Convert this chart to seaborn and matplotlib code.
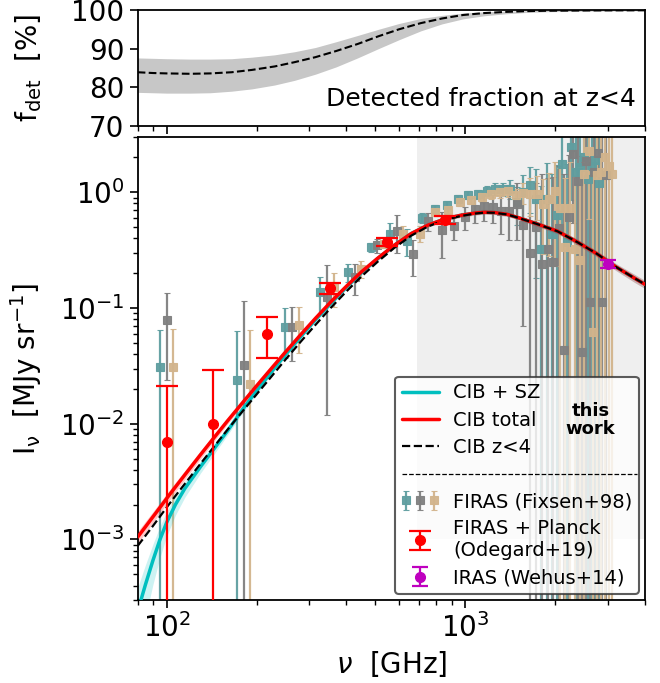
import numpy as np
import matplotlib
matplotlib.use("Agg")
import matplotlib.pyplot as plt
import seaborn as sns
from matplotlib.lines import Line2D
from matplotlib.legend_handler import HandlerTuple

# ---------------- data ----------------
# model curves (this work)
nu_model = [80, 85, 90, 95, 100, 107, 115, 130, 145, 160, 180, 200, 225, 250, 280, 315, 355,
            400, 450, 510, 580, 660, 750, 850, 960, 1080, 1160, 1250, 1380, 1500, 1750, 2040,
            2380, 2760, 3200, 3700, 4000]
cib_total = [0.00105, 0.00129, 0.00157, 0.00189, 0.00226, 0.00284, 0.00361, 0.00542, 0.00773,
             0.0106, 0.0153, 0.0212, 0.0303, 0.0416, 0.0581, 0.0813, 0.113, 0.154, 0.206,
             0.27, 0.35, 0.44, 0.52, 0.585, 0.63, 0.662, 0.672, 0.668, 0.645, 0.605, 0.53,
             0.46, 0.37, 0.294, 0.226, 0.18, 0.16]
cib_total_rel = [0.12, 0.115, 0.11, 0.105, 0.10, 0.095, 0.09, 0.08, 0.07, 0.06, 0.06, 0.05,
                 0.05, 0.05, 0.04, 0.04, 0.04, 0.04, 0.04, 0.04, 0.04, 0.04, 0.04, 0.04, 0.04,
                 0.04, 0.04, 0.04, 0.04, 0.04, 0.05, 0.05, 0.06, 0.06, 0.07, 0.08, 0.08]
cib_sz = [0.00024, 0.00041, 0.00066, 0.00100, 0.00140, 0.0020, 0.00275, 0.00427, 0.0062,
          0.0087, 0.0134, 0.0192, 0.0283, 0.0395, 0.0558, 0.079, 0.110, 0.151, 0.203, 0.268,
          0.349, 0.44, 0.52, 0.585, 0.63, 0.662, 0.672, 0.668, 0.645, 0.605, 0.53, 0.46,
          0.37, 0.294, 0.226, 0.18, 0.16]
cib_sz_rel = [0.6, 0.48, 0.38, 0.3, 0.24, 0.19, 0.16, 0.12, 0.1, 0.08, 0.07, 0.06, 0.05, 0.05,
              0.04, 0.04, 0.04, 0.04, 0.04, 0.04, 0.04, 0.04, 0.04, 0.04, 0.04, 0.04, 0.04,
              0.04, 0.04, 0.04, 0.05, 0.05, 0.06, 0.06, 0.07, 0.08, 0.08]
cib_z4 = [0.00088, 0.00108, 0.00131, 0.00158, 0.00189, 0.00238, 0.00302, 0.00453, 0.00647,
          0.0089, 0.0129, 0.0179, 0.0258, 0.0358, 0.0505, 0.0714, 0.1006, 0.139, 0.188, 0.252,
          0.332, 0.422, 0.506, 0.573, 0.621, 0.655, 0.667, 0.665, 0.643, 0.603, 0.529, 0.459,
          0.369, 0.294, 0.226, 0.18, 0.16]

# detected fraction (top panel)
nu_fdet = [80, 90, 100, 120, 140, 165, 193, 230, 268, 315, 370, 436, 512, 600, 710, 836, 983,
           1157, 1360, 1600, 1880, 2600, 4000]
fdet = [83.9, 83.7, 83.6, 83.5, 83.6, 83.9, 84.5, 85.4, 86.5, 87.8, 89.4, 91.2, 93.2, 95.0,
        96.6, 97.8, 98.7, 99.2, 99.5, 99.7, 99.8, 99.88, 99.92]
fdet_lo = [78.7, 78.6, 78.5, 78.5, 78.6, 79.0, 79.6, 80.6, 81.8, 83.4, 85.3, 87.6, 90.0, 92.3,
           94.6, 96.4, 97.7, 98.5, 99.0, 99.35, 99.55, 99.7, 99.8]
fdet_hi = [87.6, 87.5, 87.4, 87.3, 87.3, 87.4, 87.8, 88.4, 89.2, 90.3, 91.8, 93.4, 95.0, 96.5,
           97.8, 98.6, 99.2, 99.5, 99.7, 99.8, 99.9, 99.95, 100.0]

# FIRAS (Fixsen+98), three realisations
nu_firas = [100, 181.5, 263, 344.5, 426, 507.5, 589, 670.5, 752, 833.5, 915, 996.5, 1078,
            1159.5, 1241, 1322.5, 1404, 1485.5, 1567, 1648.5, 1730, 1811.5, 1893, 1974.5,
            2056, 2137.5, 2219, 2300.5, 2382, 2463.5, 2545, 2626.5, 2708, 2789.5, 2871, 2952.5]
firas_teal = [0.031, 0.024, 0.068, 0.137, 0.204, 0.335, 0.44, 0.38, 0.60, 0.72, 0.78, 0.88,
              0.95, 0.96, 1.03, 1.07, 1.07, 1.07, 0.82, 1.00, 1.16, 0.88, 0.325, 0.88, 0.44,
              0.63, 1.76, 0.37, 2.45, 1.51, 1.64, 2.0, 1.3, 1.7, 1.9, 1.2]
firas_teal_err = [0.034, 0.039, 0.031, 0.049, 0.035, 0.03, 0.10, 0.10, 0.06, 0.05, 0.06, 0.07,
                  0.08, 0.09, 0.10, 0.12, 0.14, 0.2, 0.3, 0.4, 0.5, 0.7, 0.8, 0.9, 1.0, 1.1,
                  1.3, 1.4, 1.6, 1.7, 1.9, 2.0, 2.2, 2.4, 2.6, 2.8]
firas_grey = [0.079, 0.032, 0.069, 0.124, 0.185, 0.347, 0.467, 0.29, 0.56, 0.47, 0.51, 0.61,
              0.72, 0.76, 0.74, 0.69, 0.69, 0.79, 0.52, 0.30, 0.50, 0.24, 0.325, 0.25, 0.49,
              0.043, 0.61, 2.14, 1.26, 0.042, 1.88, 0.113, 1.5, 2.2, 0.113, 1.4]
firas_grey_err = [0.055, 0.084, 0.034, 0.112, 0.055, 0.05, 0.17, 0.10, 0.10, 0.2, 0.12, 0.14,
                  0.18, 0.2, 0.2, 0.25, 0.3, 0.4, 0.45, 0.6, 0.7, 1.2, 1.0, 1.1, 1.2, 1.4,
                  1.5, 1.6, 1.8, 2.0, 2.1, 2.3, 2.5, 2.7, 2.9, 3.0]
firas_tan = [0.031, 0.022, 0.072, 0.151, 0.218, 0.36, 0.44, 0.44, 0.67, 0.70, 0.82, 0.86,
             0.91, 0.97, 1.00, 1.03, 0.94, 0.99, 0.97, 0.97, 0.79, 0.88, 1.03, 0.73, 0.335,
             0.73, 0.325, 0.26, 1.44, 2.29, 0.062, 1.41, 1.49, 2.0, 1.7, 1.45]
firas_tan_err = [0.035, 0.043, 0.031, 0.05, 0.038, 0.03, 0.07, 0.07, 0.05, 0.05, 0.06, 0.07,
                 0.08, 0.09, 0.10, 0.12, 0.13, 0.2, 0.35, 0.4, 0.5, 0.6, 0.8, 0.9, 1.0, 1.1,
                 1.3, 1.4, 1.6, 1.7, 1.9, 2.0, 2.2, 2.4, 2.6, 2.8]

# FIRAS + Planck (Odegard+19)
nu_ode = [100, 143, 217, 353, 545, 857]
I_ode = [0.007, 0.010, 0.060, 0.149, 0.37, 0.578]
I_ode_err = [0.014, 0.019, 0.023, 0.017, 0.03, 0.045]

# IRAS (Wehus+14)
nu_iras = [2998]
I_iras = [0.241]
I_iras_err = [0.02]

# shaded region
shade_nu = [690, 5000]
shade_lo, shade_hi = 1e-3, 10

XLIM = (80, 4000)
YLIM = (3e-4, 3)

# ---------------- style ----------------
sns.set_style("ticks")
plt.rcParams.update({
    "font.family": ["DejaVu Sans"],
    "axes.edgecolor": "black",
    "axes.linewidth": 1.3,
    "xtick.color": "black", "ytick.color": "black",
    "text.color": "black", "axes.labelcolor": "black",
    "xtick.major.size": 6, "ytick.major.size": 6,
    "xtick.minor.size": 3.5, "ytick.minor.size": 3.5,
    "xtick.major.width": 1.2, "ytick.major.width": 1.2,
    "xtick.minor.width": 1.0, "ytick.minor.width": 1.0,
    "xtick.direction": "out", "ytick.direction": "out",
})

fig = plt.figure(figsize=(6.6, 6.83), dpi=100)
left, right = 0.2086, 0.9773
ax_top = fig.add_axes([left, 0.8155, right - left, 0.9854 - 0.8155])
ax = fig.add_axes([left, 0.1215, right - left, 0.7994 - 0.1215])

TICK_FS = 20
LABEL_FS = 20

# ---------------- top panel ----------------
ax_top.set_xscale("log")
ax_top.fill_between(nu_fdet, fdet_lo, fdet_hi, color="0.78", lw=0, zorder=1)
sns.lineplot(x=nu_fdet, y=fdet, ax=ax_top, color="black", lw=1.5, ls="--", zorder=2)
ax_top.set_xlim(*XLIM)
ax_top.set_ylim(70, 100)
ax_top.set_yticks([70, 80, 90, 100])
ax_top.tick_params(axis="x", which="both", labelbottom=False)
ax_top.tick_params(axis="y", labelsize=TICK_FS)
ax_top.set_ylabel(r"$\mathrm{f_{det}}$  [%]", fontsize=LABEL_FS)
ax_top.yaxis.set_label_coords(-0.185, 0.5)
ax_top.text(0.982, 0.13, "Detected fraction at z<4", transform=ax_top.transAxes,
            ha="right", va="bottom", fontsize=18)

# ---------------- bottom panel ----------------
ax.set_xscale("log")
ax.set_yscale("log")
ax.fill_between(shade_nu, shade_lo, shade_hi, color="grey", alpha=0.12, lw=0, zorder=0)

# FIRAS points
fac = {"teal": 0.95, "grey": 1.0, "tan": 1.052}
cols = {"teal": "cadetblue", "grey": "grey", "tan": "tan"}
series = {"teal": (firas_teal, firas_teal_err),
          "grey": (firas_grey, firas_grey_err),
          "tan": (firas_tan, firas_tan_err)}
firas_handles = []
for key in ["teal", "grey", "tan"]:
    vals, errs = series[key]
    xs = np.array(nu_firas) * fac[key]
    eb = ax.errorbar(xs, vals, yerr=errs, fmt="s", color=cols[key], ms=5.5, mew=0.8,
                     mec=cols[key], elinewidth=1.6, capsize=2.2, capthick=1.5,
                     alpha=0.95, zorder=1)
    firas_handles.append(eb)

# model bands and curves
nu_m = np.array(nu_model)
ct = np.array(cib_total)
cs = np.array(cib_sz)
ax.fill_between(nu_m, cs * (1 - np.array(cib_sz_rel)), cs * (1 + np.array(cib_sz_rel)),
                color="c", alpha=0.2, lw=0, zorder=2)
ax.fill_between(nu_m, ct * (1 - np.array(cib_total_rel)), ct * (1 + np.array(cib_total_rel)),
                color="red", alpha=0.22, lw=0, zorder=2)
sns.lineplot(x=nu_model, y=cib_sz, ax=ax, color="c", lw=2.5, zorder=3)
h_sz = ax.lines[-1]
sns.lineplot(x=nu_model, y=cib_total, ax=ax, color="red", lw=2.5, zorder=3.1)
h_tot = ax.lines[-1]
sns.lineplot(x=nu_model, y=cib_z4, ax=ax, color="black", lw=1.6, ls="--", zorder=3.2)
h_z4 = ax.lines[-1]

# Odegard + IRAS
eb_ode = ax.errorbar(nu_ode, I_ode, yerr=I_ode_err, fmt="o", color="red", ms=7,
                     elinewidth=1.6, capsize=8, capthick=1.6, zorder=4)
eb_iras = ax.errorbar(nu_iras, I_iras, yerr=I_iras_err, fmt="o", color="m", ms=7,
                      elinewidth=1.6, capsize=6, capthick=1.6, zorder=4)

ax.set_xlim(*XLIM)
ax.set_ylim(*YLIM)
ax.tick_params(axis="both", which="major", labelsize=TICK_FS)
ax.set_xlabel(r"$\nu$  [GHz]", fontsize=LABEL_FS)
ax.set_ylabel(r"$\mathrm{I_\nu}$  [MJy sr$^{-1}$]", fontsize=LABEL_FS)
ax.yaxis.set_label_coords(-0.185, 0.5)

# legend
blank = Line2D([], [], color="none")
handles = [h_sz, h_tot, h_z4, blank, tuple(firas_handles), eb_ode, eb_iras]
labels = ["CIB + SZ", "CIB total", "CIB z<4", "", "FIRAS (Fixsen+98)",
          "FIRAS + Planck\n(Odegard+19)", "IRAS (Wehus+14)"]
leg = ax.legend(handles, labels, loc="lower right", fontsize=14, framealpha=0.8,
                edgecolor="#333333", fancybox=True, handlelength=1.9,
                handletextpad=0.75, labelspacing=0.42, borderpad=0.35,
                borderaxespad=0.3,
                handler_map={tuple: HandlerTuple(ndivide=None, pad=0.2)})
leg.get_frame().set_linewidth(1.5)
leg.set_zorder(5)

# separator line and "this work" placed relative to the legend entries
fig.canvas.draw()
inv = ax.transAxes.inverted()
texts = leg.get_texts()
b2 = inv.transform(texts[2].get_window_extent().get_points())
b4 = inv.transform(texts[4].get_window_extent().get_points())
fb = inv.transform(leg.get_frame().get_window_extent().get_points())
y_sep = 0.5 * (b2[0, 1] + b4[1, 1])
w = fb[1, 0] - fb[0, 0]
ax.plot([fb[0, 0] + 0.03 * w, fb[1, 0] - 0.01 * w], [y_sep, y_sep], transform=ax.transAxes,
        color="black", lw=0.9, ls="--", zorder=6)
b0 = inv.transform(texts[0].get_window_extent().get_points())
ax.text(0.893, 0.5 * (b0[1, 1] + b2[0, 1]), "this\nwork", transform=ax.transAxes,
        ha="center", va="center", fontsize=13, fontweight="bold", linespacing=1.0,
        zorder=6)

fig.savefig("out.png", dpi=100)
